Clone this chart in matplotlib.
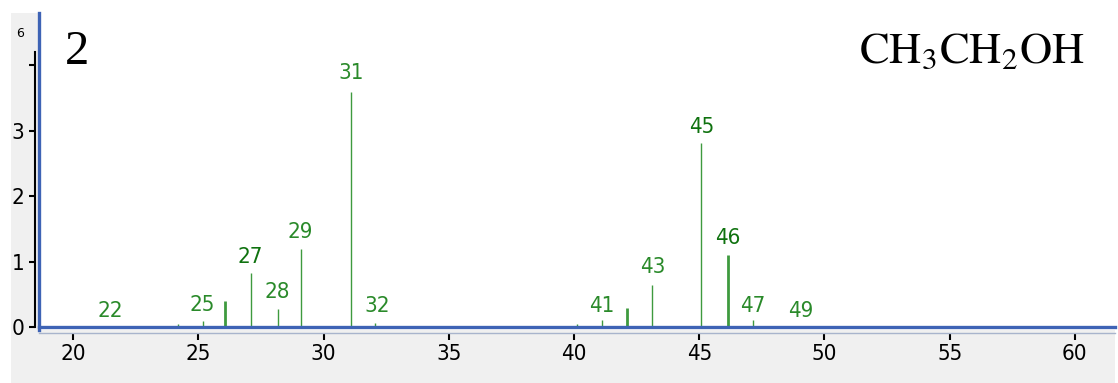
import numpy as np
import matplotlib
matplotlib.use("Agg")
import matplotlib.pyplot as plt
from matplotlib.patches import Rectangle

plt.rcParams['mathtext.fontset'] = 'stix'

# mass spectrum of ethanol: peak positions (m/z) and intensities
peak_mz = [24.2, 25.19, 26.07, 27.11, 28.19, 29.11, 31.11, 32.07,
           40.13, 41.13, 42.13, 43.13, 45.09, 46.13, 47.13]
peak_int = [0.05, 0.09, 0.40, 0.82, 0.27, 1.19, 3.59, 0.06,
            0.05, 0.11, 0.29, 0.64, 2.81, 1.10, 0.11]
peak_bold = [False, False, True, False, False, False, False, False,
             False, False, True, False, False, True, False]

# mass labels written over the spectrum
label_text = ['22', '25', '27', '28', '29', '31', '32',
              '41', '43', '45', '46', '47', '49']
label_x = [21.5, 25.17, 27.07, 28.15, 29.07, 31.11, 32.15,
           41.1, 43.13, 45.09, 46.13, 47.13, 49.05]
label_y = [0.09, 0.18, 0.92, 0.38, 1.30, 3.72, 0.17,
           0.17, 0.76, 2.90, 1.21, 0.17, 0.09]
label_dark = ['27', '45', '46']

xticks = [20, 25, 30, 35, 40, 45, 50, 55, 60]
yticks = [0, 1, 2, 3, 4]
ytick_labels = ['0', '1', '2', '3', '']

NARROW = ['DejaVu Sans']
W, H = 1118, 383

fig = plt.figure(figsize=(W / 100, H / 100), dpi=100, facecolor='white')
# grey window frame behind the plot
fig.patches.append(Rectangle((11 / W, 0), (1115 - 11) / W, (H - 13) / H,
                             transform=fig.transFigure, facecolor='#f0f0f0',
                             edgecolor='none', zorder=-10))

ax = fig.add_axes([39 / W, (H - 329.5) / H, 1076 / W, (329.5 - 13) / H])
ax.set_zorder(2)
ax.set_facecolor('white')
ax.set_xlim(18.64, 61.6)
ax.set_ylim(-0.038, 4.794)

lw = [2.0 if b else 1.0 for b in peak_bold]
ax.vlines(peak_mz, 0, peak_int, colors='#3f9a3f', linewidths=lw, zorder=2)

for t, x, y in zip(label_text, label_x, label_y):
    col = '#0f720f' if t in label_dark else '#2a8a2a'
    ax.text(x, y, t, ha='center', va='bottom', fontsize=16, color=col,
            family=NARROW, stretch='condensed')

# axes decorations
for s in ['top', 'right']:
    ax.spines[s].set_visible(False)
ax.spines['left'].set_position(('outward', 3))
ax.spines['left'].set_color('black')
ax.spines['left'].set_linewidth(1.5)
ax.spines['left'].set_bounds(0, 4.2)
ax.spines['bottom'].set_position(('outward', 2.5))
ax.spines['bottom'].set_color('#a8b4cc')
ax.spines['bottom'].set_linewidth(1)

ax.axvline(ax.get_xlim()[0], color='#3e63b5', lw=2.4, clip_on=False, zorder=5)
ax.axhline(0, color='#3e63b5', lw=2.4, clip_on=False, zorder=5)

ax.set_xticks(xticks)
ax.set_xticklabels([str(v) for v in xticks], family=NARROW, fontsize=16,
                   stretch='condensed')
ax.set_yticks(yticks)
ax.set_yticklabels(ytick_labels, family=NARROW, fontsize=16,
                   stretch='condensed')
ax.tick_params(axis='x', length=5, width=1.5, pad=3)
ax.tick_params(axis='y', length=4.5, width=1.5, pad=3)

fig.text(16 / W, (H - 37) / H, '6', fontsize=9, family=NARROW, va='baseline')
fig.text(65 / W, (H - 64) / H, '2', fontsize=35, family='Liberation Serif',
         va='baseline')
fig.text(1085 / W, (H - 63) / H, r'$\mathrm{CH_3CH_2OH}$', fontsize=32,
         ha='right', va='baseline')

fig.savefig('out.png', dpi=100, facecolor=fig.get_facecolor())
